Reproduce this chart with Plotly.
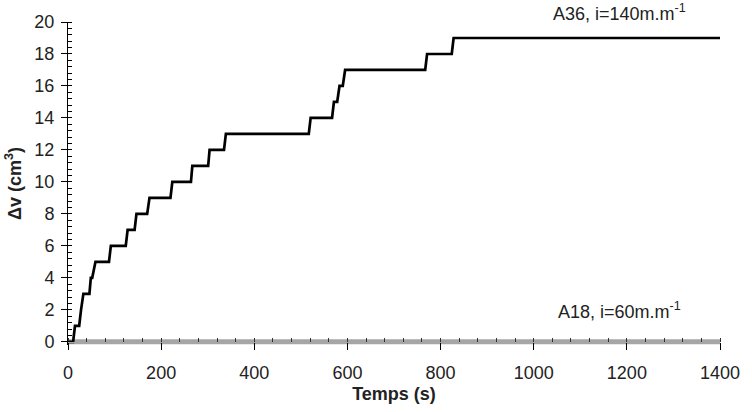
import plotly.graph_objects as go

# A36, i=140 m/m : cumulated volume vs time (step curve)
t_a36 = [0, 11, 15, 24, 28, 33, 46, 49, 52, 59, 88, 92, 124, 128, 143, 147, 170, 175,
         220, 224, 264, 267, 301, 304, 335, 339, 517, 521, 567, 571, 578, 583, 590, 595,
         767, 771, 824, 828, 1400]
v_a36 = [0, 0, 1, 1, 2, 3, 3, 4, 4, 5, 5, 6, 6, 7, 7, 8, 8, 9,
         9, 10, 10, 11, 11, 12, 12, 13, 13, 14, 14, 15, 15, 16, 16, 17,
         17, 18, 18, 19, 19]

# A18, i=60 m/m : no flow
t_a18 = [0, 1400]
v_a18 = [0, 0]

label_a36 = "A36, i=140m.m<sup>-1</sup>"
label_a18 = "A18, i=60m.m<sup>-1</sup>"

FONT = "Liberation Sans, Arial, sans-serif"
y_lo, y_hi = -0.2, 20

fig = go.Figure()
fig.add_trace(go.Scatter(x=t_a18, y=v_a18, mode="lines",
                         line=dict(color="#a6a6a6", width=5), showlegend=False))
fig.add_trace(go.Scatter(x=t_a36, y=v_a36, mode="lines",
                         line=dict(color="#000000", width=2.7), showlegend=False))

fig.add_annotation(x=1185, y=19, xref="x", yref="y", text=label_a36, showarrow=False,
                   yanchor="middle", yshift=25, font=dict(family=FONT, size=18, color="#222222"))
fig.add_annotation(x=1185, y=0, xref="x", yref="y", text=label_a18, showarrow=False,
                   yanchor="middle", yshift=31, font=dict(family=FONT, size=18, color="#222222"))

fig.update_layout(
    width=752, height=412,
    margin=dict(l=68, r=30, t=14, b=67),
    paper_bgcolor="white", plot_bgcolor="white",
    font=dict(family=FONT, size=18, color="#222222"),
    showlegend=False,
)
fig.update_xaxes(
    range=[0, 1400], dtick=200, tick0=0,
    showgrid=False, zeroline=False,
    showline=True, linecolor="#a6a6a6", linewidth=1,
    ticks="outside", ticklen=7, tickcolor="black", tickwidth=1,
    minor=dict(dtick=40, ticks="inside", ticklen=4, tickcolor="#333333", tickwidth=1),
    anchor="free", position=(0 - y_lo) / (y_hi - y_lo),
    layer="above traces",
    ticklabelstandoff=8,
    title=dict(text="<b>Temps (s)</b>", standoff=4, font=dict(size=18)),
    tickfont=dict(size=18),
)
fig.update_yaxes(
    range=[y_lo, y_hi], tickvals=list(range(0, 21, 2)),
    showgrid=False, zeroline=False,
    showline=True, linecolor="black", linewidth=1,
    ticks="outside", ticklen=6, tickcolor="black", tickwidth=1,
    minor=dict(tickvals=[i * 0.4 for i in range(0, 51)], ticks="inside", ticklen=4,
               tickcolor="black", tickwidth=1),
    ticklabelstandoff=3,
    title=dict(text="<b>Δv (cm<sup>3</sup>)</b>", standoff=8, font=dict(size=18)),
    tickfont=dict(size=18),
)

fig.write_html("out.html")
